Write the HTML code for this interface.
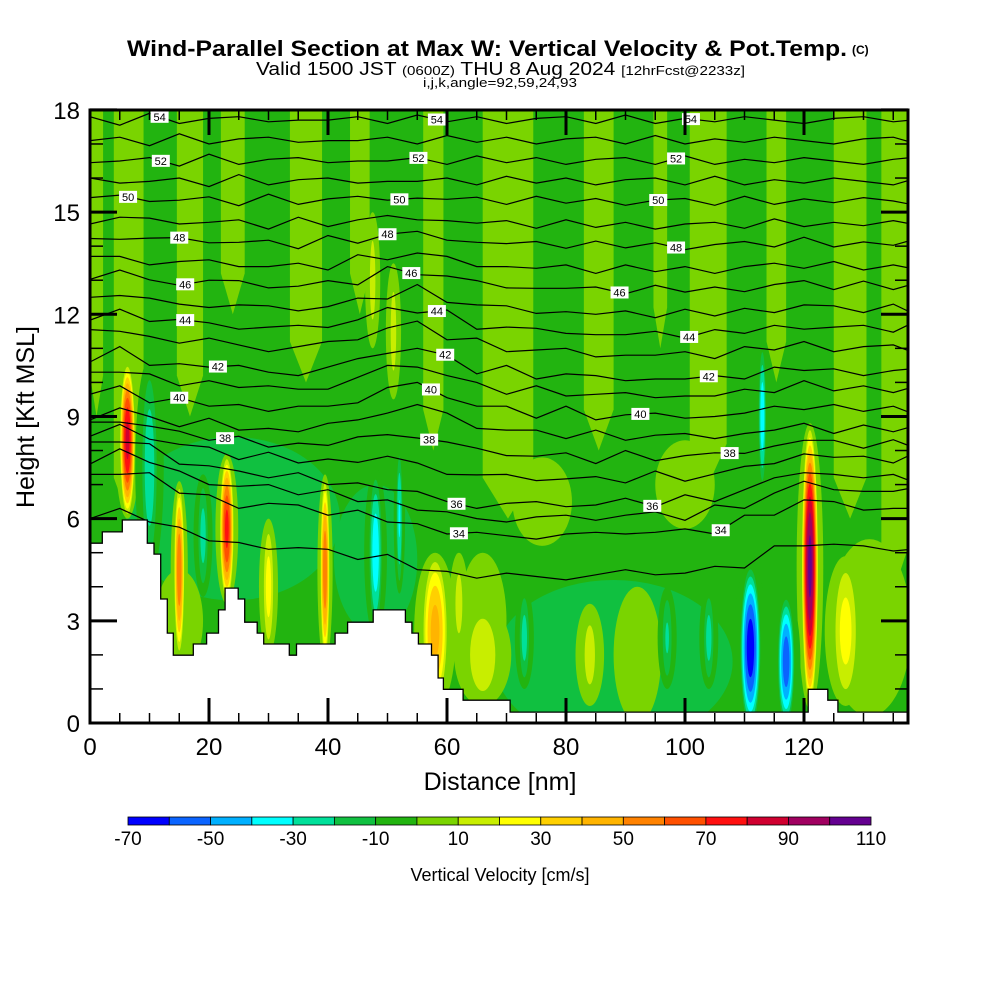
<!DOCTYPE html>
<html><head><meta charset="utf-8"><style>
html,body{margin:0;padding:0;background:#fff;}
svg{display:block;font-family:"Liberation Sans",Arial,sans-serif;}
</style></head><body>
<svg id="chart" width="1000" height="1000" viewBox="0 0 1000 1000" xmlns="http://www.w3.org/2000/svg">
<text x="127" y="56" font-size="22" font-weight="bold" textLength="720" lengthAdjust="spacingAndGlyphs">Wind-Parallel Section at Max W: Vertical Velocity &amp; Pot.Temp.</text>
<text x="852" y="54" font-size="12" font-weight="bold">(C)</text>
<text x="256" y="75" font-size="18" textLength="489" lengthAdjust="spacingAndGlyphs">Valid 1500 JST <tspan font-size="13">(0600Z)</tspan> THU 8 Aug 2024 <tspan font-size="13">[12hrFcst@2233z]</tspan></text>
<text x="500" y="87" font-size="13" text-anchor="middle" textLength="154" lengthAdjust="spacingAndGlyphs">i,j,k,angle=92,59,24,93</text>
<defs><clipPath id="plotclip"><rect x="90" y="110" width="818" height="613"/></clipPath></defs>
<g id="field" clip-path="url(#plotclip)"></g>
<g id="isen" clip-path="url(#plotclip)"></g>
<g id="terrain"></g>
<g id="labels"></g>
<g id="axes"></g>
<text x="500" y="790" font-size="25" text-anchor="middle">Distance [nm]</text>
<text transform="translate(34,417) rotate(-90)" font-size="25" text-anchor="middle">Height [Kft MSL]</text>
<g id="cbar"></g>
<text x="500" y="881" font-size="18" text-anchor="middle">Vertical Velocity [cm/s]</text>
</svg>
<script>
// ---- data ----
const binColors = ['#0000ff','#0a64ff','#00b0ff','#00ffff','#00e09a','#10c040','#22b410','#7ad400','#c8ee00','#ffff00','#ffd000','#ffb400','#ff8200','#ff5000','#ff1010','#d00030','#a00060','#640090'];
const cbarTicks = [-70,-50,-30,-10,10,30,50,70,90,110];
const xTicks = [0,20,40,60,80,100,120];
const yTicks = [0,3,6,9,12,15,18];
// upper light-green bands: [x0, x1, bottom kft]
const bandX0 = [0,4,14.6,22,33.6,43.7,56,66,83,94.7,100.8,113.7,125,133];
const bandX1 = [2.2,9,19,26,39,47,59.4,74.5,88,97,107,117,130.5,137.6];
const bandBottom = [9,6,9,12,10,12,8,6,8,11,7,10,6,4];
// flat zones: center x, center kft, half-width nm, half-height kft, value
const zoneX = [24,48,88,131,92,76,15,100,66];
const zoneY = [6,4.8,1.8,2.8,2,6.5,3,7,3];
const zoneW = [18,7,20,7,4,5,4,5,4];
const zoneH = [2.4,2.2,2.4,2.6,2,1.3,1.5,1.3,2];
const zoneV = [-15,-15,-15,5,5,5,5,5,5];
// features (updrafts/downdrafts)
const featX = [6.3,15,23,39.5,58,121,127,51,66,84,30,111,117,113,48,52,10,19,73,104,97,62,47.5];
const featY = [8.3,4.5,5.7,4.5,2.7,4.6,2.7,11.5,2,2,4,2.2,1.8,9,5,6,7.5,5.5,2.5,2.5,2.5,3.5,13];
const featW = [1.3,0.9,1.2,0.8,2.2,1.4,2.2,0.8,3,1.5,1,1.8,1.5,0.7,1.2,0.6,1.5,1,1,1,1,1,0.8];
const featH = [2.3,2.6,2.2,2.8,2.3,4.2,2.2,2,1.5,1.5,2,2.5,2,2.2,2.5,2.2,3.2,1.8,1.5,1.5,1.5,1.5,2];
const featV = [85,60,75,60,45,105,25,15,20,15,25,-68,-58,-38,-38,-32,-28,-25,-25,-25,-22,15,15];
// isentropes
const thetaLevels = [33,34,35,36,37,38,39,40,41,42,43,44,45,46,47,48,49,50,51,52,53,54,55];
const baseHeight = [4.4,5.6,6.1,6.5,7.2,7.8,8.4,9.0,9.6,10.1,10.8,11.4,12.0,12.7,13.3,14.0,14.6,15.3,15.9,16.5,17.1,17.7,18.3];
const xSamples = [0,5,10,15,20,25,30,35,40,45,50,55,60,65,70,75,80,85,90,95,100,105,110,115,120,125,130,135,138];
const lowShift = [1.6,1.8,1.6,1.2,1.0,0.8,0.8,0.7,0.6,0.5,0.4,0.2,0,-0.1,-0.1,-0.1,-0.1,-0.1,0,0,0,0.1,0.3,0.6,0.9,0.8,0.7,0.7,0.7];
const midShift = [0.6,0.8,0.5,0.4,0.4,0.3,0.2,0.2,0.3,0.5,0.8,0.9,0.6,0.3,0.2,0.1,0.1,0,0,0,0,0,0.1,0.2,0.3,0.2,0.2,0.2,0.2];
const wiggle = [0,0.1,-0.1,0.15,-0.05,0.1,-0.1,0.05,0.1,-0.1,0.15,-0.1,0.05,-0.05,0.1,0,-0.1,0.05,0.1,-0.05,0,0.1,-0.15,0.2,-0.1,0.05,0.1,-0.05,0];
const labelTheta = [54,54,54,52,52,52,50,50,50,48,48,48,46,46,46,44,44,44,42,42,42,40,40,40,38,38,38,36,36,34,34];
const labelX = [11.7,58.3,101,11.9,55.2,98.5,6.4,52,95.5,15,50,98.5,16,54,89,16,58.3,100.7,21.5,59.7,104,15,57.3,92.5,22.7,57,107.5,61.6,94.5,62,106];
// terrain steps
const terrX = [0,2.07,5.43,9.63,10.76,11.88,12.99,14.0,17.36,19.6,21.6,22.7,24.9,26.0,28.1,29.2,33.5,34.7,41.2,43.3,47.6,53.0,54.1,55.2,57.4,58.5,59.4,62.7,70.6,120.7,124.0,125.7];
const terrH = [5.28,5.61,5.96,5.28,4.96,3.64,2.64,1.99,2.32,2.64,3.32,3.96,3.64,2.96,2.64,2.32,1.99,2.32,2.64,2.96,3.32,2.96,2.64,2.32,1.99,1.32,0.99,0.67,0.32,0.99,0.67,0.32];

// ---- scales ----
const X = nm => 90 + nm*5.95;
const Y = k => 723 - k*34.06;
const NS = 'http://www.w3.org/2000/svg';
function mk(tag, attrs, parent){const e=document.createElementNS(NS,tag);for(const k in attrs)e.setAttribute(k,attrs[k]);parent.appendChild(e);return e;}
function colorOf(v){let i=Math.floor((v+70)/10);i=Math.max(0,Math.min(17,i));return binColors[i];}

const field=document.getElementById('field');
let r=mk('rect',{x:90,y:110,width:818,height:613,fill:binColors[6]},field);


for(let i=0;i<bandX0.length;i++){
  const x0=X(bandX0[i]),x1=X(bandX1[i]),yb=Y(bandBottom[i]),yb2=Y(bandBottom[i]+1.2);
  const p=mk('polygon',{points:`${x0},${Y(18.5)} ${x1},${Y(18.5)} ${x1},${yb2} ${(x0+x1)/2},${yb} ${x0},${yb2}`,fill:colorOf(5)},field);
  
  
}
for(let i=0;i<zoneX.length;i++){
  const e=mk('ellipse',{cx:X(zoneX[i]),cy:Y(zoneY[i]),rx:zoneW[i]*5.95,ry:zoneH[i]*34.06,fill:colorOf(zoneV[i])},field);
  
  
}
for(let i=0;i<featX.length;i++){
  const pk=featV[i],a=Math.abs(pk);
  for(let t=0;t<a;t+=10){
    const s=Math.sqrt(1-t/a);
    const v=pk>0?t+5:-(t+5);
    const e=mk('ellipse',{cx:X(featX[i]),cy:Y(featY[i]),rx:featW[i]*5.95*s*(t===0?1.6:1),ry:featH[i]*34.06*s,fill:colorOf(v)},field);
    
    
  }
}
// isentropes
function isenH(li,xi){
  const th=thetaLevels[li];
  const wl=Math.max(0,Math.min(1,(39-th)/3));
  const wm=th<=39?1-wl:Math.max(0,Math.min(1,(51-th)/8));
  return baseHeight[li]+wl*lowShift[xi]+wm*midShift[xi]+wiggle[(xi+li)%wiggle.length];
}
function isenAt(li,xnm){
  for(let i=0;i<xSamples.length-1;i++){
    if(xnm<=xSamples[i+1]){const f=(xnm-xSamples[i])/(xSamples[i+1]-xSamples[i]);return isenH(li,i)*(1-f)+isenH(li,i+1)*f;}
  }
  return isenH(li,xSamples.length-1);
}
const isen=document.getElementById('isen');
for(let li=0;li<thetaLevels.length;li++){
  const pts=xSamples.map((x,xi)=>`${X(x).toFixed(1)},${Y(isenH(li,xi)).toFixed(1)}`).join(' ');
  const pl=mk('polyline',{points:pts,fill:'none',stroke:'#000','stroke-width':1.2},isen);
  
  
}
// terrain
const terr=document.getElementById('terrain');
let d=`M${X(0)},${Y(0)} `;
for(let i=0;i<terrX.length;i++){
  d+=`L${X(terrX[i]).toFixed(1)},${i?Y(terrH[i-1]).toFixed(1):Y(terrH[0]).toFixed(1)} L${X(terrX[i]).toFixed(1)},${Y(terrH[i]).toFixed(1)} `;
}
d+=`L908,${Y(terrH[terrH.length-1]).toFixed(1)} L908,723 Z`;
const tp=mk('path',{d:d,fill:'#fff',stroke:'#000','stroke-width':1.3},terr);


// labels
const lab=document.getElementById('labels');
for(let i=0;i<labelTheta.length;i++){
  const li=thetaLevels.indexOf(labelTheta[i]);
  const cx=X(labelX[i]),cy=Y(isenAt(li,labelX[i]));
  const g=mk('g',{},lab);
  
  
  mk('rect',{x:cx-9,y:cy-6,width:18,height:12,fill:'#fff'},g);
  const t=mk('text',{x:cx,y:cy+4,'font-size':11,'text-anchor':'middle'},g);
  t.textContent=labelTheta[i];
}
// axes
const ax=document.getElementById('axes');
mk('rect',{x:90,y:110,width:818,height:613,fill:'none',stroke:'#000','stroke-width':3},ax);
for(let n=0;n<=135;n+=5){
  const L=n%20===0?25:10,x=X(n);
  mk('line',{x1:x,y1:723,x2:x,y2:723-L,stroke:'#000','stroke-width':n%20===0?3:1.5},ax);
  mk('line',{x1:x,y1:110,x2:x,y2:110+L,stroke:'#000','stroke-width':n%20===0?3:1.5},ax);
}
for(let k=0;k<=18;k++){
  const L=k%3===0?27:13,y=Y(k);
  mk('line',{x1:90,y1:y,x2:90+L,y2:y,stroke:'#000','stroke-width':k%3===0?3:1.5},ax);
  mk('line',{x1:908,y1:y,x2:908-L,y2:y,stroke:'#000','stroke-width':k%3===0?3:1.5},ax);
}
xTicks.forEach(v=>{const t=mk('text',{x:X(v),y:755,'font-size':24,'text-anchor':'middle'},ax);
  
  
  t.textContent=v;});
yTicks.forEach(v=>{const t=mk('text',{x:80,y:Y(v)+9,'font-size':24,'text-anchor':'end'},ax);
  
  
  t.textContent=v;});
// colorbar
const cb=document.getElementById('cbar');
const cw=(871-128)/binColors.length;
binColors.forEach((c,i)=>{const r=mk('rect',{x:128+i*cw,y:817,width:cw,height:8,fill:c,stroke:'#000','stroke-width':0.8},cb);
  
  });
cbarTicks.forEach(v=>{const t=mk('text',{x:128+(v+70)/10*cw,y:845,'font-size':19,'text-anchor':'middle'},cb);
  
  
  t.textContent=v;});
</script>
</body></html>
